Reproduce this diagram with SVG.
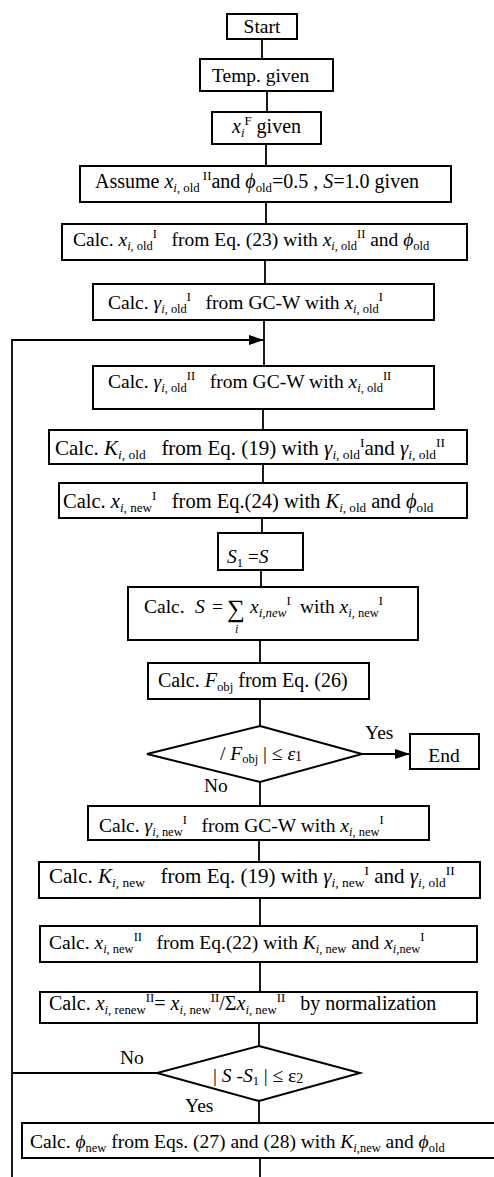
<svg xmlns="http://www.w3.org/2000/svg" width="494" height="1177" viewBox="0 0 494 1177" xml:space="preserve">
<style>
text{font-family:"Liberation Serif","Times New Roman",serif;font-size:19.5px;fill:#000;white-space:pre}
.i{font-style:italic}
.s{font-size:0.64em}
.box{fill:#fff;stroke:#000;stroke-width:2}
.ln{fill:none;stroke:#000;stroke-width:1.8}
</style>
<defs>
<marker id="ah" markerUnits="userSpaceOnUse" markerWidth="15" markerHeight="10" refX="15" refY="5" orient="auto"><path d="M0,0 L15,5 L0,10 z" fill="#000"/></marker>
</defs>
<g id="connectors">
<line class="ln" x1="262" y1="39" x2="262" y2="59"/>
<line class="ln" x1="267" y1="91" x2="267" y2="112"/>
<line class="ln" x1="266" y1="144" x2="266" y2="166"/>
<line class="ln" x1="266" y1="202" x2="266" y2="224"/>
<line class="ln" x1="265" y1="260" x2="265" y2="284"/>
<line class="ln" x1="264" y1="320" x2="264" y2="366"/>
<line class="ln" x1="263" y1="409" x2="263" y2="430"/>
<line class="ln" x1="263" y1="464" x2="263" y2="483"/>
<line class="ln" x1="262" y1="518" x2="262" y2="533"/>
<line class="ln" x1="261" y1="570" x2="261" y2="587"/>
<line class="ln" x1="260" y1="640" x2="260" y2="663"/>
<line class="ln" x1="260" y1="699" x2="260" y2="726"/>
<line class="ln" x1="362" y1="754" x2="410" y2="754" marker-end="url(#ah)"/>
<line class="ln" x1="260" y1="782" x2="260" y2="806"/>
<line class="ln" x1="259" y1="840" x2="259" y2="862"/>
<line class="ln" x1="260" y1="898" x2="260" y2="926"/>
<line class="ln" x1="260" y1="962" x2="260" y2="992"/>
<line class="ln" x1="259" y1="1023" x2="259" y2="1046"/>
<line class="ln" x1="259" y1="1101" x2="259" y2="1123"/>
<line class="ln" x1="260" y1="1158" x2="260" y2="1177"/>
<polyline class="ln" points="157,1073 12,1073"/>
<polyline class="ln" points="12,1177 12,340 264,340" marker-end="url(#ah)"/>
</g>
<g id="start"><rect class="box" x="227" y="14" width="70" height="25"/><text x="262" y="33" text-anchor="middle">Start</text></g>
<g id="temp"><rect class="box" x="200" y="59" width="133" height="32"/><text x="212" y="82">Temp. given</text></g>
<g id="xf"><rect class="box" x="212" y="112" width="109" height="32"/><text x="232" y="133" style="font-size:20px"><tspan class="i">x</tspan><tspan class="s i" dy="4">i</tspan><tspan class="s" dy="-12">F</tspan><tspan dy="8"> given</tspan></text></g>
<g id="assume"><rect class="box" x="80" y="166" width="371" height="36"/><text x="95" y="188" style="font-size:20px">Assume <tspan class="i">x</tspan><tspan class="s" dy="4"><tspan class="i">i,</tspan> old</tspan><tspan class="s" dy="-12"> II</tspan><tspan dy="8">and </tspan><tspan class="i">ϕ</tspan><tspan class="s" dy="4">old</tspan><tspan dy="-4">=0.5 , </tspan><tspan class="i">S</tspan>=1.0 given</text></g>
<g id="xold"><rect class="box" x="62" y="224" width="405" height="36"/><text x="73" y="246">Calc. <tspan class="i">x</tspan><tspan class="s" dy="4"><tspan class="i">i,</tspan> old</tspan><tspan class="s" dy="-12">I</tspan><tspan dy="8">   from Eq. (23) with </tspan><tspan class="i">x</tspan><tspan class="s" dy="4"><tspan class="i">i,</tspan> old</tspan><tspan class="s" dy="-12">II</tspan><tspan dy="8"> and </tspan><tspan class="i">ϕ</tspan><tspan class="s" dy="4">old</tspan></text></g>
<g id="gold1"><rect class="box" x="93" y="284" width="341" height="36"/><text x="108" y="309">Calc. <tspan class="i">γ</tspan><tspan class="s" dy="4"><tspan class="i">i,</tspan> old</tspan><tspan class="s" dy="-12">I</tspan><tspan dy="8">   from GC-W with </tspan><tspan class="i">x</tspan><tspan class="s" dy="4"><tspan class="i">i,</tspan> old</tspan><tspan class="s" dy="-12">I</tspan></text></g>
<g id="gold2"><rect class="box" x="93" y="366" width="341" height="43"/><text x="108" y="388">Calc. <tspan class="i">γ</tspan><tspan class="s" dy="4"><tspan class="i">i,</tspan> old</tspan><tspan class="s" dy="-12">II</tspan><tspan dy="8">   from GC-W with </tspan><tspan class="i">x</tspan><tspan class="s" dy="4"><tspan class="i">i,</tspan> old</tspan><tspan class="s" dy="-12">II</tspan></text></g>
<g id="kold"><rect class="box" x="49" y="430" width="418" height="34"/><text x="55" y="455" style="font-size:21px">Calc. <tspan class="i">K</tspan><tspan class="s" dy="4"><tspan class="i">i,</tspan> old</tspan><tspan dy="-4">   from Eq. (19) with </tspan><tspan class="i">γ</tspan><tspan class="s" dy="4"><tspan class="i">i,</tspan> old</tspan><tspan class="s" dy="-12">I</tspan><tspan dy="8">and </tspan><tspan class="i">γ</tspan><tspan class="s" dy="4"><tspan class="i">i,</tspan> old</tspan><tspan class="s" dy="-12">II</tspan></text></g>
<g id="xnew1"><rect class="box" x="59" y="483" width="408" height="35"/><text x="63" y="508" style="font-size:20.5px">Calc. <tspan class="i">x</tspan><tspan class="s" dy="4"><tspan class="i">i,</tspan> new</tspan><tspan class="s" dy="-12">I</tspan><tspan dy="8">   from Eq.(24) with </tspan><tspan class="i">K</tspan><tspan class="s" dy="4"><tspan class="i">i,</tspan> old</tspan><tspan dy="-4"> and </tspan><tspan class="i">ϕ</tspan><tspan class="s" dy="4">old</tspan></text></g>
<g id="s1"><rect class="box" x="218" y="533" width="85" height="37"/><text x="227" y="563"><tspan class="i">S</tspan><tspan class="s" dy="4">1</tspan><tspan dy="-4"> =</tspan><tspan class="i">S</tspan></text></g>
<g id="calcs"><rect class="box" x="128" y="587" width="290" height="53"/><text x="144" y="613">Calc.</text><text x="195" y="613" class="i">S</text><text x="212" y="613">=</text><text x="227" y="617" style="font-size:25px">∑</text><text x="235" y="633" class="i" style="font-size:12px">i</text><text x="250" y="613"><tspan class="i">x</tspan><tspan class="i" style="font-size:13px" dy="4">i,new</tspan><tspan class="s" dy="-12">I</tspan></text><text x="300" y="613">with <tspan class="i">x</tspan><tspan class="s" dy="4"><tspan class="i">i,</tspan> new</tspan><tspan class="s" dy="-12">I</tspan></text></g>
<g id="fobj"><rect class="box" x="148" y="663" width="221" height="36"/><text x="158" y="687" style="font-size:20px">Calc. <tspan class="i">F</tspan><tspan class="s" dy="4">obj</tspan><tspan dy="-4"> from Eq. (26)</tspan></text></g>
<g id="dec1"><polygon class="box" points="260,726 362,754 260,782 147,754"/><text x="220" y="760">/ <tspan class="i">F</tspan><tspan class="s" dy="3">obj</tspan><tspan dy="-3"> | ≤ </tspan><tspan class="i">ε</tspan><tspan style="font-size:14px" dy="1">1</tspan></text></g>
<g id="yes1"><text x="365" y="739">Yes</text></g>
<g id="end"><rect class="box" x="410" y="734" width="69" height="35"/><text x="444" y="762" text-anchor="middle">End</text></g>
<g id="no1"><text x="204" y="792">No</text></g>
<g id="gnew"><rect class="box" x="88" y="806" width="341" height="34"/><text x="99" y="832">Calc. <tspan class="i">γ</tspan><tspan class="s" dy="4"><tspan class="i">i,</tspan> new</tspan><tspan class="s" dy="-12">I</tspan><tspan dy="8">   from GC-W with </tspan><tspan class="i">x</tspan><tspan class="s" dy="4"><tspan class="i">i,</tspan> new</tspan><tspan class="s" dy="-12">I</tspan></text></g>
<g id="knew"><rect class="box" x="39" y="862" width="441" height="36"/><text x="49" y="883" style="font-size:21px">Calc. <tspan class="i">K</tspan><tspan class="s" dy="4"><tspan class="i">i,</tspan> new</tspan><tspan dy="-4">   from Eq. (19) with </tspan><tspan class="i">γ</tspan><tspan class="s" dy="4"><tspan class="i">i,</tspan> new</tspan><tspan class="s" dy="-12">I</tspan><tspan dy="8"> and </tspan><tspan class="i">γ</tspan><tspan class="s" dy="4"><tspan class="i">i,</tspan> old</tspan><tspan class="s" dy="-12">II</tspan></text></g>
<g id="xnew2"><rect class="box" x="40" y="926" width="437" height="36"/><text x="49" y="949">Calc. <tspan class="i">x</tspan><tspan class="s" dy="4"><tspan class="i">i,</tspan> new</tspan><tspan class="s" dy="-12">II</tspan><tspan dy="8">   from Eq.(22) with </tspan><tspan class="i">K</tspan><tspan class="s" dy="4"><tspan class="i">i,</tspan> new</tspan><tspan dy="-4"> and </tspan><tspan class="i">x</tspan><tspan class="s" dy="4"><tspan class="i">i,</tspan>new</tspan><tspan class="s" dy="-12">I</tspan></text></g>
<g id="norm"><rect class="box" x="40" y="992" width="437" height="31"/><text x="49" y="1010" style="font-size:20px">Calc. <tspan class="i">x</tspan><tspan class="s" dy="4"><tspan class="i">i,</tspan> renew</tspan><tspan class="s" dy="-12">II</tspan><tspan dy="8">= </tspan><tspan class="i">x</tspan><tspan class="s" dy="4"><tspan class="i">i,</tspan> new</tspan><tspan class="s" dy="-12">II</tspan><tspan dy="8">/Σ</tspan><tspan class="i">x</tspan><tspan class="s" dy="4"><tspan class="i">i,</tspan> new</tspan><tspan class="s" dy="-12">II</tspan><tspan dy="8">   by normalization</tspan></text></g>
<g id="dec2"><polygon class="box" points="259,1046 360,1073 259,1101 157,1073"/><text x="213" y="1082">| <tspan class="i">S</tspan> -<tspan class="i">S</tspan><tspan class="s" dy="3">1</tspan><tspan dy="-3"> | ≤ ε</tspan><tspan style="font-size:14px" dy="1">2</tspan></text></g>
<g id="no2"><text x="120" y="1064">No</text></g>
<g id="yes2"><text x="185" y="1112">Yes</text></g>
<g id="phinew"><rect class="box" x="22" y="1123" width="478" height="35"/><text x="30" y="1148">Calc. <tspan class="i">ϕ</tspan><tspan class="s" dy="4">new</tspan><tspan dy="-4"> from Eqs. (27) and (28) with </tspan><tspan class="i">K</tspan><tspan class="s" dy="4"><tspan class="i">i,</tspan>new</tspan><tspan dy="-4"> and </tspan><tspan class="i">ϕ</tspan><tspan class="s" dy="4">old</tspan></text></g>
</svg>
